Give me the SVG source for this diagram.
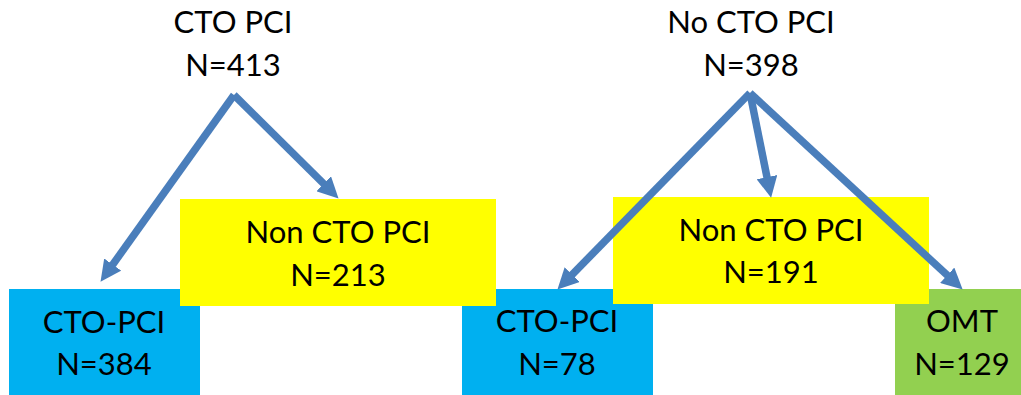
<svg xmlns="http://www.w3.org/2000/svg" width="1021" height="395" viewBox="0 0 1021 395">
  <style>
    .lbl { font-family: Lato, "Open Sans", "Liberation Sans", sans-serif; font-size: 31px; fill: #000000; text-anchor: middle; }
    .cto { fill: #00B0F0; }
    .non { fill: #FFFF00; }
    .omt { fill: #92D050; }
    .link { fill: none; stroke: #4A7EBB; stroke-width: 7.5; marker-end: url(#head); }
  </style>
  <defs>
    <marker id="head" markerUnits="userSpaceOnUse" viewBox="0 0 20 20" markerWidth="21" markerHeight="21" refX="4" refY="10" orient="auto">
      <path d="M0,0 L20,10 L0,20 z" fill="#4A7EBB"/>
    </marker>
  </defs>

  <rect width="1021" height="395" fill="#FFFFFF"/>

  <!-- outcome boxes along the bottom row -->
  <g id="cto-pci-384">
    <rect class="cto" x="9" y="289" width="191" height="106"/>
    <text class="lbl" x="104" y="333">CTO-PCI</text>
    <text class="lbl" x="104" y="375">N=384</text>
  </g>
  <g id="cto-pci-78">
    <rect class="cto" x="462" y="289" width="191" height="106"/>
    <text class="lbl" x="557" y="332">CTO-PCI</text>
    <text class="lbl" x="557" y="375">N=78</text>
  </g>
  <g id="omt-129">
    <rect class="omt" x="895" y="289" width="134" height="106"/>
    <text class="lbl" x="962" y="332">OMT</text>
    <text class="lbl" x="962" y="375">N=129</text>
  </g>

  <!-- non-CTO PCI boxes sit over the bottom row -->
  <g id="non-cto-pci-213">
    <rect class="non" x="180" y="199" width="316" height="107"/>
    <text class="lbl" x="338" y="243">Non CTO PCI</text>
    <text class="lbl" x="338" y="286">N=213</text>
  </g>
  <g id="non-cto-pci-191">
    <rect class="non" x="613" y="197" width="316" height="107"/>
    <text class="lbl" x="771" y="241">Non CTO PCI</text>
    <text class="lbl" x="771" y="283">N=191</text>
  </g>

  <!-- cohort headings -->
  <g id="cto-pci-413">
    <text class="lbl" x="233" y="33">CTO PCI</text>
    <text class="lbl" x="233" y="76">N=413</text>
  </g>
  <g id="no-cto-pci-398">
    <text class="lbl" x="751" y="33">No CTO PCI</text>
    <text class="lbl" x="751" y="76">N=398</text>
  </g>

  <!-- connectors -->
  <g id="connectors">
    <path class="link" d="M234,95 L110.3,268"/>
    <path class="link" d="M234,95 L326.6,186.7"/>
    <path class="link" d="M750,93 L569.2,277.6"/>
    <path class="link" d="M750,93 L767.8,181.3"/>
    <path class="link" d="M750,93 L950.3,278.1"/>
  </g>
</svg>
